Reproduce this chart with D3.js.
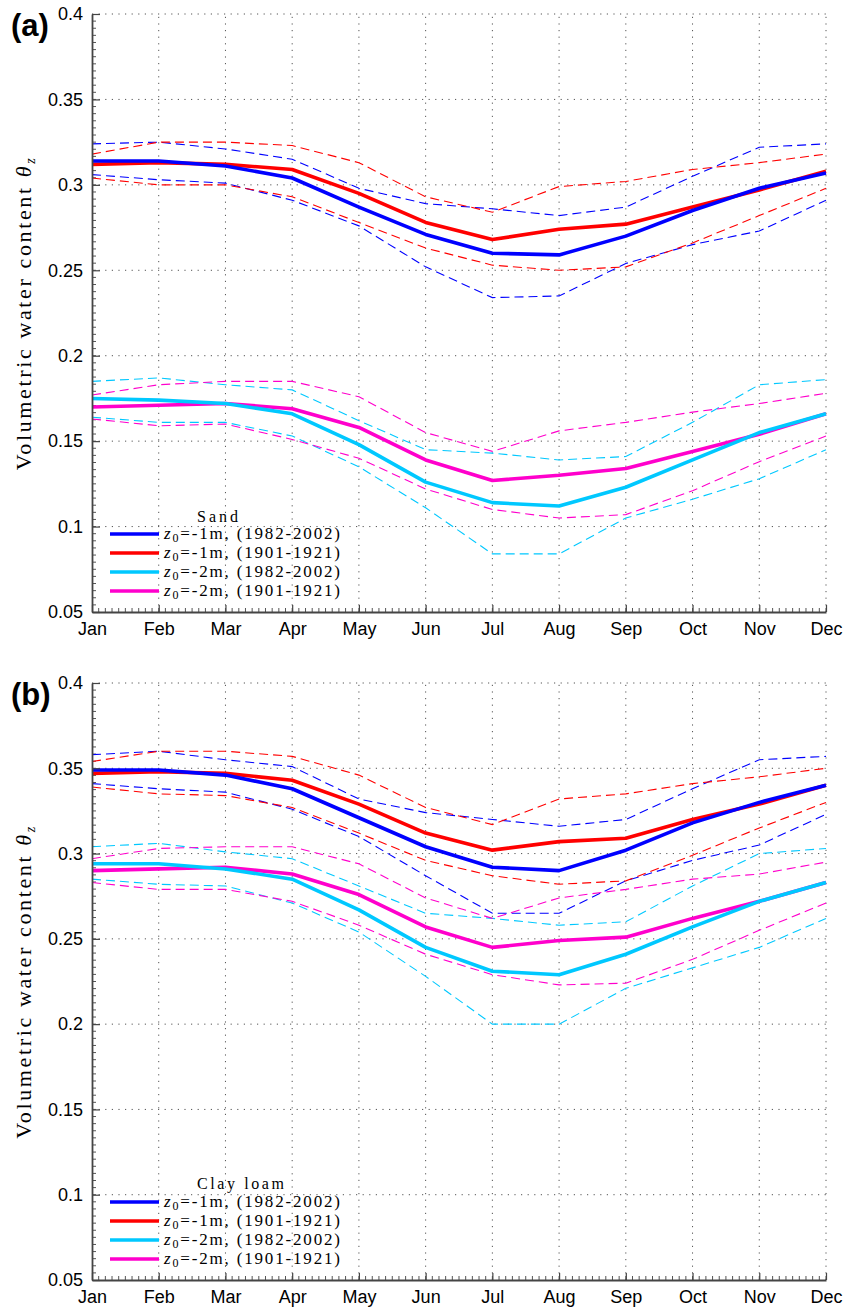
<!DOCTYPE html>
<html>
<head>
<meta charset="utf-8">
<script src="https://cdn.jsdelivr.net/npm/d3@7/dist/d3.min.js"></script>
<style>
  html, body { margin: 0; padding: 0; background: #fff; }
  svg { display: block; }
</style>
</head>
<body>
<svg id="chart" width="845" height="1307"></svg>
<script>
// Monthly volumetric water content, mean with upper/lower envelopes
const months = ["Jan","Feb","Mar","Apr","May","Jun","Jul","Aug","Sep","Oct","Nov","Dec"];
const yTicks = [0.05, 0.1, 0.15, 0.2, 0.25, 0.3, 0.35, 0.4];
const yTickLabels = ["0.05","0.1","0.15","0.2","0.25","0.3","0.35","0.4"];
const legendLabels = ["=-1m, (1982-2002)", "=-1m, (1901-1921)", "=-2m, (1982-2002)", "=-2m, (1901-1921)"];

// Sand, z0 = -1 m, 1982-2002
const sand1mRecent   = [0.314,0.314,0.311,0.304,0.287,0.271,0.260,0.259,0.270,0.285,0.298,0.307];
const sand1mRecentHi = [0.324,0.325,0.321,0.315,0.298,0.289,0.286,0.282,0.287,0.305,0.322,0.324];
const sand1mRecentLo = [0.306,0.303,0.301,0.291,0.276,0.252,0.234,0.235,0.254,0.265,0.273,0.291];
// Sand, z0 = -1 m, 1901-1921
const sand1mPast     = [0.312,0.313,0.312,0.309,0.295,0.278,0.268,0.274,0.277,0.287,0.297,0.308];
const sand1mPastHi   = [0.318,0.325,0.325,0.323,0.313,0.293,0.284,0.299,0.302,0.309,0.313,0.318];
const sand1mPastLo   = [0.304,0.300,0.300,0.293,0.278,0.263,0.253,0.250,0.252,0.266,0.282,0.298];
// Sand, z0 = -2 m, 1982-2002
const sand2mRecent   = [0.175,0.174,0.172,0.166,0.148,0.126,0.114,0.112,0.123,0.139,0.155,0.166];
const sand2mRecentHi = [0.185,0.187,0.183,0.180,0.162,0.145,0.143,0.139,0.141,0.161,0.183,0.186];
const sand2mRecentLo = [0.164,0.161,0.161,0.153,0.135,0.111,0.084,0.084,0.105,0.116,0.128,0.145];
// Sand, z0 = -2 m, 1901-1921
const sand2mPast     = [0.170,0.171,0.172,0.169,0.158,0.139,0.127,0.130,0.134,0.144,0.154,0.166];
const sand2mPastHi   = [0.177,0.183,0.185,0.185,0.176,0.155,0.144,0.156,0.161,0.167,0.172,0.178];
const sand2mPastLo   = [0.163,0.159,0.160,0.151,0.140,0.122,0.110,0.105,0.107,0.121,0.138,0.153];

// Clay loam, z0 = -1 m, 1982-2002
const clay1mRecent   = [0.349,0.349,0.346,0.338,0.321,0.304,0.292,0.290,0.302,0.318,0.330,0.340];
const clay1mRecentHi = [0.358,0.360,0.355,0.351,0.332,0.324,0.320,0.316,0.320,0.338,0.355,0.357];
const clay1mRecentLo = [0.341,0.338,0.336,0.326,0.310,0.287,0.265,0.265,0.284,0.296,0.305,0.323];
// Clay loam, z0 = -1 m, 1901-1921
const clay1mPast     = [0.347,0.348,0.347,0.343,0.329,0.312,0.302,0.307,0.309,0.320,0.329,0.340];
const clay1mPastHi   = [0.354,0.360,0.360,0.357,0.346,0.327,0.317,0.332,0.335,0.341,0.345,0.350];
const clay1mPastLo   = [0.339,0.335,0.334,0.327,0.312,0.296,0.287,0.282,0.284,0.299,0.315,0.330];
// Clay loam, z0 = -2 m, 1982-2002
const clay2mRecent   = [0.294,0.294,0.291,0.285,0.267,0.245,0.231,0.229,0.241,0.257,0.272,0.283];
const clay2mRecentHi = [0.304,0.306,0.301,0.297,0.281,0.265,0.262,0.258,0.260,0.281,0.300,0.303];
const clay2mRecentLo = [0.285,0.282,0.281,0.271,0.254,0.228,0.200,0.200,0.221,0.233,0.245,0.262];
// Clay loam, z0 = -2 m, 1901-1921
const clay2mPast     = [0.290,0.291,0.292,0.288,0.276,0.257,0.245,0.249,0.251,0.262,0.272,0.283];
const clay2mPastHi   = [0.297,0.303,0.304,0.304,0.294,0.274,0.262,0.274,0.279,0.285,0.288,0.295];
const clay2mPastLo   = [0.283,0.279,0.279,0.272,0.258,0.241,0.229,0.223,0.224,0.238,0.255,0.271];

const colors = { blue: "#0000ff", red: "#ff0000", cyan: "#00c8ff", magenta: "#ff00cc" };

const panels = [
  {
    tag: "(a)", title: "Sand", top: 14, bottom: 612, titleWidth: 41, titleGap: 12,
    series: [
      { color: colors.blue,    mean: sand1mRecent, hi: sand1mRecentHi, lo: sand1mRecentLo },
      { color: colors.red,     mean: sand1mPast,   hi: sand1mPastHi,   lo: sand1mPastLo },
      { color: colors.cyan,    mean: sand2mRecent, hi: sand2mRecentHi, lo: sand2mRecentLo },
      { color: colors.magenta, mean: sand2mPast,   hi: sand2mPastHi,   lo: sand2mPastLo }
    ]
  },
  {
    tag: "(b)", title: "Clay loam", top: 683, bottom: 1280, titleWidth: 87, titleGap: 13,
    series: [
      { color: colors.blue,    mean: clay1mRecent, hi: clay1mRecentHi, lo: clay1mRecentLo },
      { color: colors.red,     mean: clay1mPast,   hi: clay1mPastHi,   lo: clay1mPastLo },
      { color: colors.cyan,    mean: clay2mRecent, hi: clay2mRecentHi, lo: clay2mRecentLo },
      { color: colors.magenta, mean: clay2mPast,   hi: clay2mPastHi,   lo: clay2mPastLo }
    ]
  }
];

const svg = d3.select("#chart");
const left = 92, right = 826;
const x = d3.scalePoint().domain(months).range([left, right]);

const SANS = "'Liberation Sans', Arial, sans-serif";
const SERIF = "'Liberation Serif', 'Times New Roman', serif";

// Spread the glyphs of a text so that it spans the given width
function fitWidth(sel, target) {
  sel.style("letter-spacing", "0px");
  const node = sel.node();
  const w = node.getComputedTextLength();
  const n = node.textContent.length;
  sel.style("letter-spacing", ((target - w) / Math.max(1, n - 1)) + "px");
}

panels.forEach(p => {
  const g = svg.append("g");
  const y = d3.scaleLinear().domain([0.05, 0.4]).range([p.bottom, p.top]);

  // dotted grid
  const grid = g.append("g")
    .attr("stroke", "#555").attr("stroke-width", 1)
    .attr("stroke-dasharray", "1.2,5.4").attr("fill", "none");
  grid.selectAll("line.h").data(yTicks.slice(1)).join("line")
    .attr("x1", left).attr("x2", right)
    .attr("y1", d => y(d)).attr("y2", d => y(d));
  grid.selectAll("line.v").data(months.slice(1)).join("line")
    .attr("x1", d => x(d)).attr("x2", d => x(d))
    .attr("y1", p.bottom).attr("y2", p.top);

  // minor ticks
  const minor = g.append("g").attr("stroke", "#555").attr("stroke-width", 1);
  const yStep = (y(0.05) - y(0.1)) / 12;
  d3.range(p.bottom - yStep, p.top + 0.5, -yStep).forEach(py => {
    minor.append("line").attr("x1", left).attr("x2", left + 4).attr("y1", py).attr("y2", py);
  });
  const xStep = (x("Feb") - x("Jan")) / 10;
  d3.range(left + xStep, right + 0.5, xStep).forEach(px => {
    minor.append("line").attr("x1", px).attr("x2", px).attr("y1", p.bottom).attr("y2", p.bottom - 4);
  });

  // envelopes (dashed), then means (solid)
  const line = d3.line().x((d, i) => x(months[i])).y(d => y(d));
  p.series.forEach(s => {
    [s.hi, s.lo].forEach(arr => {
      g.append("path").datum(arr).attr("d", line)
        .attr("fill", "none").attr("stroke", s.color)
        .attr("stroke-width", 1.1).attr("stroke-dasharray", "9,5");
    });
  });
  [1, 0, 3, 2].forEach(k => {
    const s = p.series[k];
    g.append("path").datum(s.mean).attr("d", line)
      .attr("fill", "none").attr("stroke", s.color)
      .attr("stroke-width", 3.6).attr("stroke-linejoin", "round");
  });

  // axes
  const yAxis = d3.axisLeft(y).tickValues(yTicks)
    .tickFormat((d, i) => yTickLabels[i]).tickSize(-8).tickSizeOuter(0).tickPadding(9);
  const ya = g.append("g").attr("transform", `translate(${left},0)`).call(yAxis);
  const xAxis = d3.axisBottom(x).tickSize(-7).tickSizeOuter(0).tickPadding(10);
  const xa = g.append("g").attr("transform", `translate(0,${p.bottom})`).call(xAxis);
  [ya, xa].forEach(a => {
    a.select(".domain").attr("stroke", "#444").attr("stroke-width", 1.8);
    a.selectAll(".tick line").attr("stroke", "#444").attr("stroke-width", 1.2);
    a.selectAll(".tick text").attr("fill", "#000")
      .style("font-family", SANS).style("font-size", "18px");
  });

  // y-axis title
  const yt = g.append("text")
    .attr("transform", `translate(31,${(p.top + p.bottom) / 2}) rotate(-90)`)
    .attr("text-anchor", "middle")
    .style("font-family", SERIF).style("font-size", "22px").attr("fill", "#000");
  yt.append("tspan").text("Volumetric water content ");
  yt.append("tspan").style("font-style", "italic").text("θ");
  yt.append("tspan").style("font-style", "italic").style("font-size", "14px")
    .attr("dy", 4).text("z");
  fitWidth(yt, 312);

  // panel tag
  g.append("text").attr("x", 11).attr("y", p.top + 21.5)
    .style("font-family", SANS).style("font-size", "31px").style("font-weight", "bold")
    .text(p.tag);

  // legend
  const firstY = p.bottom - 78, rowH = 19;
  const tt = g.append("text").attr("x", 197).attr("y", firstY - p.titleGap)
    .style("font-family", SERIF).style("font-size", "16px").text(p.title);
  fitWidth(tt, p.titleWidth);
  p.series.forEach((s, i) => {
    const ly = firstY + i * rowH;
    g.append("line").attr("x1", 110).attr("x2", 159).attr("y1", ly).attr("y2", ly)
      .attr("stroke", s.color).attr("stroke-width", 3.6);
    const t = g.append("text").attr("x", 164).attr("y", ly + 5)
      .style("font-family", SERIF).style("font-size", "17px");
    t.append("tspan").style("font-style", "italic").text("z");
    t.append("tspan").style("font-size", "12px").attr("dy", 3).text("0");
    t.append("tspan").attr("dy", -3).text(legendLabels[i]);
    fitWidth(t, 176);
  });
});
</script>
</body>
</html>
